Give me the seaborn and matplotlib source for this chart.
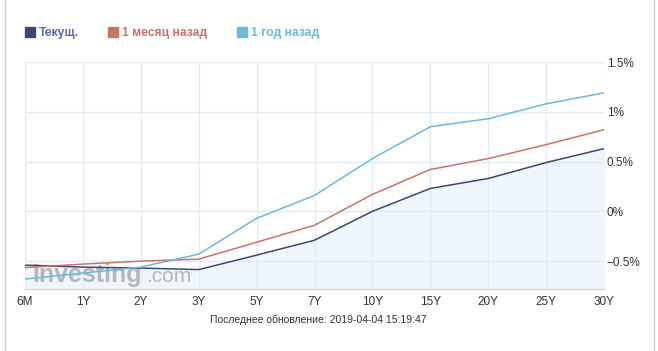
import numpy as np
import pandas as pd
import matplotlib
matplotlib.use("Agg")
import matplotlib.pyplot as plt
from matplotlib.ticker import FuncFormatter
from matplotlib.lines import Line2D
import seaborn as sns

# сроки погашения и доходности, %
terms = ["6M", "1Y", "2Y", "3Y", "5Y", "7Y", "10Y", "15Y", "20Y", "25Y", "30Y"]
current = [-0.54, -0.56, -0.57, -0.585, -0.44, -0.29, 0.0, 0.23, 0.33, 0.49, 0.63]
month_ago = [-0.565, -0.53, -0.50, -0.48, -0.31, -0.14, 0.17, 0.42, 0.53, 0.67, 0.82]
year_ago = [-0.68, -0.62, -0.56, -0.43, -0.07, 0.16, 0.53, 0.85, 0.93, 1.08, 1.19]
series_names = ["Текущ.", "1 месяц назад", "1 год назад"]
y_ticks = [-0.5, 0, 0.5, 1, 1.5]
updated = "Последнее обновление: 2019-04-04 15:19:47"

colors = ["#3d4677", "#c9736a", "#6fb8dc"]
text_colors = ["#5a64a8", "#c9736a", "#6fb8dc"]

df = pd.DataFrame({"term": terms * 3,
                   "value": current + month_ago + year_ago,
                   "series": np.repeat(series_names, len(terms))})

sns.set_style("white")
plt.rcParams["font.family"] = ["Liberation Sans", "DejaVu Sans"]

fig = plt.figure(figsize=(6.58, 3.51), dpi=100)
ax = fig.add_axes([25 / 658, 1 - 289 / 351, 579 / 658, 227 / 351])

pos = np.arange(len(terms))
ax.fill_between(pos, current, -0.78, color="#eff6fd", zorder=0)

sns.lineplot(data=df, x="term", y="value", hue="series", palette=colors,
             sort=False, linewidth=1.1, legend=False, ax=ax, zorder=3)

ax.set_xlim(0, len(terms) - 1)
ax.set_ylim(-0.78, 1.5)
ax.set_xticks(pos)
ax.set_xticklabels(terms)
ax.set_yticks(y_ticks)
ax.yaxis.tick_right()
ax.yaxis.set_major_formatter(FuncFormatter(
    lambda v, p: ("%g%%" % v).replace("-", "\u2212")))
ax.grid(True, color="#e4ebf5", linewidth=1)
for s in ["top", "left", "right"]:
    ax.spines[s].set_visible(False)
ax.spines["bottom"].set_color("#c6d3e2")
ax.tick_params(axis="both", length=0, labelsize=8.5, colors="#333333")
ax.tick_params(axis="x", pad=5)
ax.tick_params(axis="y", pad=2)
ax.set_xlabel("")
ax.set_ylabel("")

# водяной знак
ax.text(0.12, -0.64, "Investing", fontsize=18, fontweight="bold",
        color="#8f8f8f", alpha=0.6, va="center", zorder=2)
ax.text(2.1, -0.65, ".com", fontsize=15, color="#8f8f8f", alpha=0.6,
        va="center", zorder=2)

handles = [Line2D([], [], marker="s", linestyle="", markersize=7, color=c)
           for c in colors]
leg = fig.legend(handles, series_names, loc="upper left",
                 bbox_to_anchor=(14 / 658, 1 - 16 / 351), ncol=3, frameon=False,
                 handletextpad=0.35, columnspacing=2.45, handlelength=0.8,
                 prop={"weight": "bold", "size": 8.7})
for t, c in zip(leg.get_texts(), text_colors):
    t.set_color(c)

fig.text(318 / 658, 1 - 320 / 351, updated, ha="center", va="center",
         fontsize=7.5, color="#333333")

# рамка виджета
fig.add_artist(Line2D([5 / 658, 5 / 658], [0, 1], color="#d0d0d0", lw=1))
fig.add_artist(Line2D([654 / 658, 654 / 658], [0, 1], color="#d0d0d0", lw=1))

fig.savefig("out.png", dpi=100, facecolor="white")
